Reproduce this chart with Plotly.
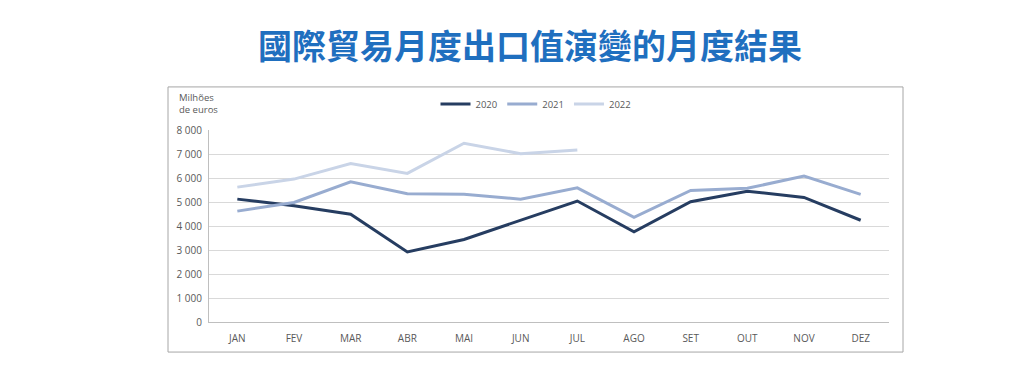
import plotly.graph_objects as go

months = ["JAN", "FEV", "MAR", "ABR", "MAI", "JUN", "JUL", "AGO", "SET", "OUT", "NOV", "DEZ"]
v2020 = [5120, 4840, 4490, 2920, 3440, 4240, 5040, 3760, 5010, 5450, 5190, 4240]
v2021 = [4620, 4980, 5845, 5340, 5320, 5120, 5590, 4360, 5480, 5570, 6080, 5320]
v2022 = [5620, 5955, 6600, 6190, 7450, 7010, 7170]
ytick_vals = [0, 1000, 2000, 3000, 4000, 5000, 6000, 7000, 8000]
ytick_text = ["0", "1 000", "2 000", "3 000", "4 000", "5 000", "6 000", "7 000", "8 000"]

FONT = "Open Sans, Noto Sans, sans-serif"

fig = go.Figure()
fig.add_trace(go.Scatter(x=months, y=v2020, name="2020", mode="lines",
                         line=dict(color="#263d61", width=3)))
fig.add_trace(go.Scatter(x=months, y=v2021, name="2021", mode="lines",
                         line=dict(color="#98acd0", width=3)))
fig.add_trace(go.Scatter(x=months[:len(v2022)], y=v2022, name="2022", mode="lines",
                         line=dict(color="#c9d4e7", width=3)))

OFF = 8  # page body margin
W, H = 1024 - 2 * OFF, 373 - 2 * OFF
L, R, T, B = 209 - OFF, 889 - OFF, 130 - OFF, 321.7 - OFF
pw, ph = R - L, B - T

def px(x):
    return (x - OFF - L) / pw

def py(y):
    return (B - (y - OFF)) / ph

fig.update_layout(
    width=W, height=H,
    margin=dict(l=L, r=W - R, t=T, b=H - B),
    paper_bgcolor="white", plot_bgcolor="white",
    font=dict(family=FONT, size=10, color="#595959"),
    showlegend=True,
    legend=dict(orientation="h", x=px(536), y=py(104), xanchor="center", yanchor="middle",
                font=dict(size=9.5, color="#595959"), bgcolor="rgba(0,0,0,0)",
                itemwidth=30, tracegroupgap=0),
    xaxis=dict(type="category", categoryorder="array", categoryarray=months,
               range=[-0.5, 11.5], showgrid=False, showline=True, linecolor="#bfbfbf",
               linewidth=1, ticks="", tickfont=dict(size=10, color="#595959"),
               ticklabelstandoff=7, fixedrange=True, zeroline=False),
    yaxis=dict(range=[0, 8000], tickvals=ytick_vals, ticktext=ytick_text,
               showgrid=True, gridcolor="#d9d9d9", gridwidth=1,
               showline=True, linecolor="#bfbfbf", linewidth=1, ticks="",
               tickfont=dict(size=10, color="#595959"), ticklabelstandoff=4,
               zeroline=False, fixedrange=True),
    shapes=[dict(type="rect", xref="paper", yref="paper",
                 x0=px(168), x1=px(903), y0=py(351.7), y1=py(87),
                 line=dict(color="#a6a6a6", width=1), fillcolor="rgba(0,0,0,0)", layer="below")],
    annotations=[
        dict(text="國際貿易月度出口值演變的月度結果", xref="paper", yref="paper",
             x=px(530), y=py(45), xanchor="center", yanchor="middle", showarrow=False,
             font=dict(family="Noto Sans CJK TC, Noto Sans CJK SC, sans-serif", size=34,
                       color="#1f6fbf", weight="bold")),
        dict(text="Milhões<br>de euros", xref="paper", yref="paper",
             x=px(177), y=py(104), xanchor="left", yanchor="middle", align="left",
             showarrow=False, font=dict(size=9.5, color="#595959")),
    ],
)

fig.write_html("out.html")
